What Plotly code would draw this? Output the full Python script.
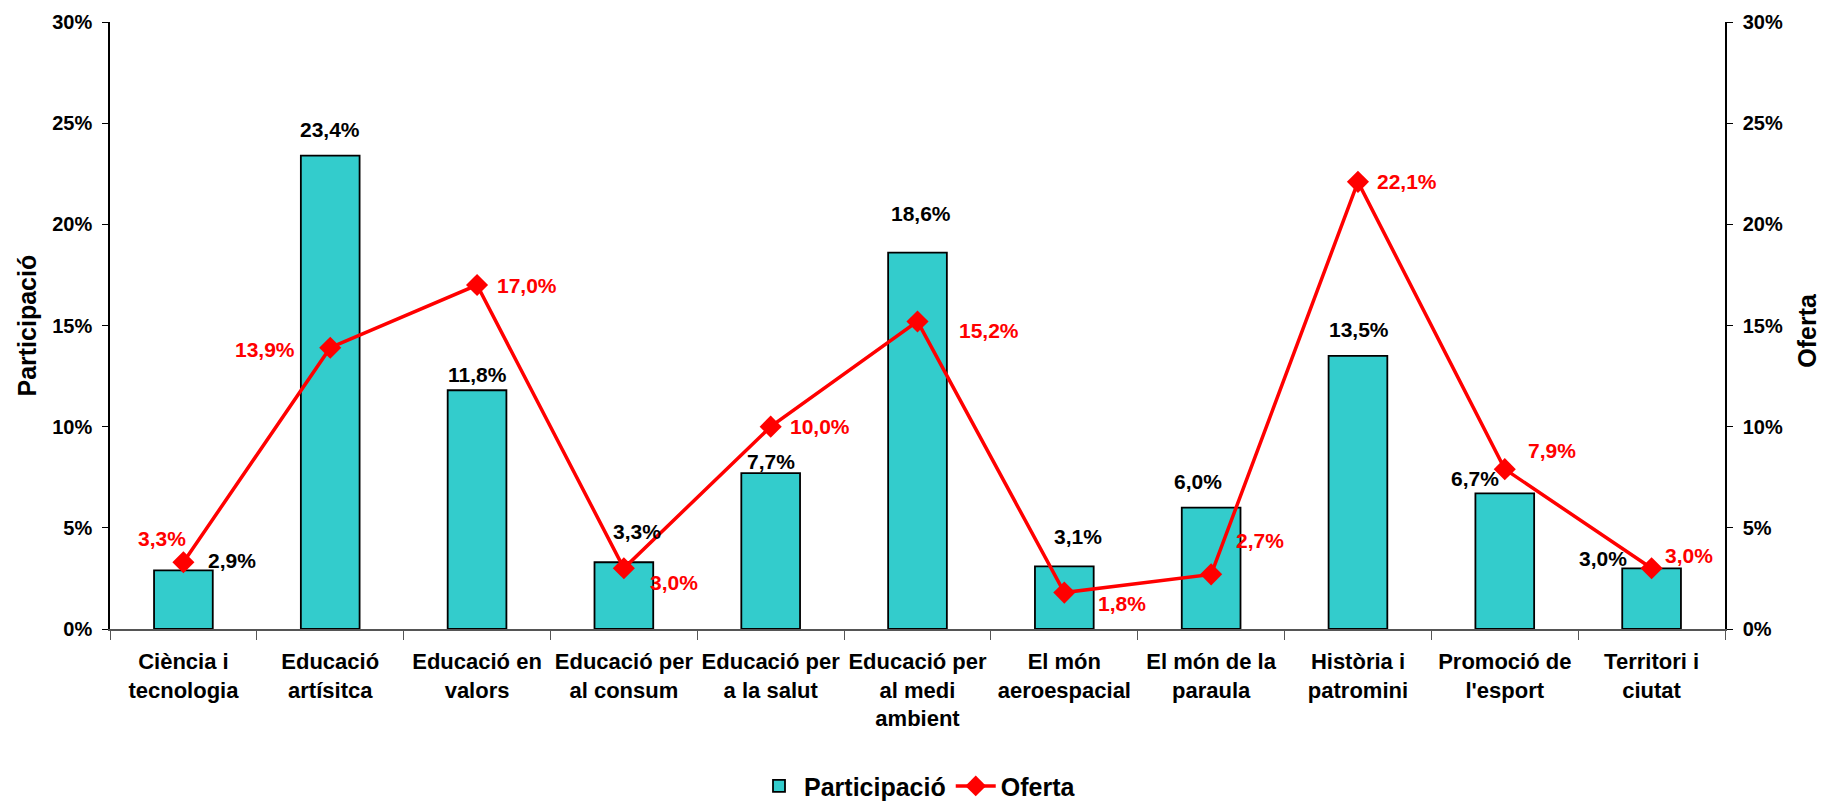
import plotly.graph_objects as go

categories = [
    "Ciència i<br>tecnologia", "Educació<br>artísitca", "Educació en<br>valors",
    "Educació per<br>al consum", "Educació per<br>a la salut", "Educació per<br>al medi<br>ambient",
    "El món<br>aeroespacial", "El món de la<br>paraula", "Història i<br>patromini",
    "Promoció de<br>l'esport", "Territori i<br>ciutat",
]
participacio = [2.9, 23.4, 11.8, 3.3, 7.7, 18.6, 3.1, 6.0, 13.5, 6.7, 3.0]
oferta = [3.3, 13.9, 17.0, 3.0, 10.0, 15.2, 1.8, 2.7, 22.1, 7.9, 3.0]
y_ticks = [0, 5, 10, 15, 20, 25, 30]

# label offsets in pixels (style only)
part_dx = [49, 0, 0, 13, 0, 3, 14, -13, 1, -30, -49]
part_dy = [10, 26, 16, 31, 12, 39, 30, 26, 26, 15, 10]
of_dx = [-21, -65, 50, 50, 49, 71, 58, 49, 49, 47, 37]
of_dy = [24, -2, 0, -14, 0, -9, -11, 34, 0, 19, 13]

FONT = "Liberation Sans, Arial, sans-serif"
TEAL = "#33CCCC"
RED = "#FF0000"


def fmt(v):
    return f"{v:.1f}".replace(".", ",") + "%"


fig = go.Figure()
fig.add_trace(go.Bar(
    x=categories, y=participacio, name="<b>Participació</b>",
    marker=dict(color=TEAL, line=dict(color="black", width=1.8)),
    yaxis="y",
))
fig.add_trace(go.Scatter(
    x=categories, y=oferta, name="<b>Oferta</b>", mode="lines+markers",
    line=dict(color=RED, width=3.5),
    marker=dict(symbol="diamond", size=17, color=RED),
    yaxis="y2",
))

annotations = []
for c, v, dx, dy in zip(categories, participacio, part_dx, part_dy):
    annotations.append(dict(
        x=c, y=v, xref="x", yref="y", text=f"<b>{fmt(v)}</b>", showarrow=False,
        xshift=dx, yshift=dy, font=dict(family=FONT, size=21, color="black"),
    ))
for c, v, dx, dy in zip(categories, oferta, of_dx, of_dy):
    annotations.append(dict(
        x=c, y=v, xref="x", yref="y2", text=f"<b>{fmt(v)}</b>", showarrow=False,
        xshift=dx, yshift=dy, font=dict(family=FONT, size=21, color=RED),
    ))
annotations.append(dict(
    x=-0.052, y=0.5, xref="paper", yref="paper", text="<b>Participació</b>",
    textangle=-90, showarrow=False, xanchor="center", yanchor="middle",
    font=dict(family=FONT, size=25, color="black"),
))
annotations.append(dict(
    x=1.0506, y=0.4926, xref="paper", yref="paper", text="<b>Oferta</b>",
    textangle=-90, showarrow=False, xanchor="center", yanchor="middle",
    font=dict(family=FONT, size=25, color="black"),
))

tick_text = [f"<b>{t}%</b>" for t in y_ticks]

fig.update_layout(
    width=1823, height=804,
    margin=dict(l=110, r=98, t=22, b=175, autoexpand=False),
    paper_bgcolor="white", plot_bgcolor="white",
    font=dict(family=FONT, color="black"),
    bargap=0.6,
    showlegend=True,
    legend=dict(
        orientation="h", x=0.5, xanchor="center", y=-0.259, yanchor="middle",
        font=dict(family=FONT, size=25, color="black"),
        itemwidth=40,
    ),
    xaxis=dict(
        automargin=False, range=[-0.5, len(categories) - 0.5],
        showline=True, linecolor="#555555", linewidth=1.5,
        ticks="outside", tickson="boundaries", ticklen=9, tickcolor="#555555",
        showgrid=False, tickfont=dict(family=FONT, size=22, color="black"),
        tickangle=0, ticklabelstandoff=12,
        tickvals=categories, ticktext=[f"<b>{c}</b>" for c in categories],
    ),
    yaxis=dict(
        automargin=False,
        range=[0, 30], tickvals=y_ticks, ticktext=tick_text,
        showline=True, linecolor="black", linewidth=1.5,
        ticks="outside", ticklen=6, tickcolor="black", showgrid=False, zeroline=False,
        tickfont=dict(family=FONT, size=20, color="black"), ticklabelstandoff=6,
    ),
    yaxis2=dict(
        automargin=False,
        range=[0, 30], tickvals=y_ticks, ticktext=tick_text,
        overlaying="y", side="right",
        showline=True, linecolor="black", linewidth=1.5,
        ticks="outside", ticklen=6, tickcolor="black", showgrid=False, zeroline=False,
        tickfont=dict(family=FONT, size=20, color="black"), ticklabelstandoff=6,
    ),
    annotations=annotations,
)

fig.write_html(
    "out.html",
    config={"displayModeBar": False},
    post_script="document.body.style.margin='0';document.body.style.overflow='hidden';",
)
